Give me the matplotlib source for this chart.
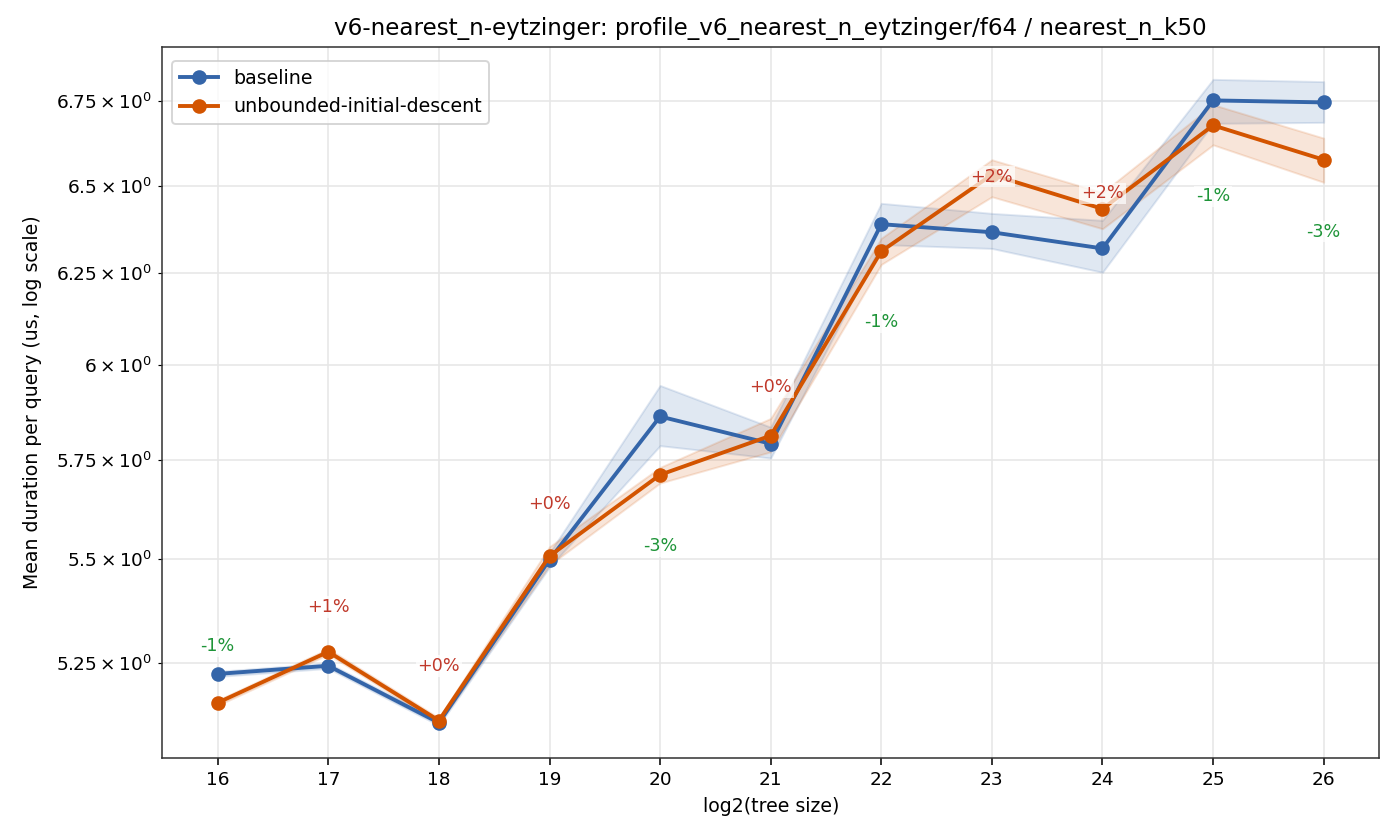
import matplotlib
matplotlib.use("Agg")
import matplotlib.pyplot as plt

sizes = [16, 17, 18, 19, 20, 21, 22, 23, 24, 25, 26]

base_mean = [5.224, 5.243, 5.111, 5.498, 5.862, 5.791, 6.389, 6.366, 6.320, 6.753, 6.747]
base_lo = [5.218, 5.237, 5.105, 5.480, 5.786, 5.754, 6.331, 6.320, 6.253, 6.684, 6.687]
base_hi = [5.230, 5.249, 5.118, 5.515, 5.944, 5.834, 6.449, 6.420, 6.400, 6.817, 6.810]

cand_mean = [5.157, 5.276, 5.116, 5.507, 5.711, 5.812, 6.312, 6.532, 6.433, 6.678, 6.576]
cand_lo = [5.151, 5.270, 5.110, 5.485, 5.690, 5.770, 6.275, 6.468, 6.376, 6.620, 6.510]
cand_hi = [5.163, 5.283, 5.122, 5.530, 5.730, 5.857, 6.349, 6.576, 6.480, 6.740, 6.640]

pct_labels = ["-1%", "+1%", "+0%", "+0%", "-3%", "+0%", "-1%", "+2%", "+2%", "-1%", "-3%"]
# vertical offset of each label from the candidate point, in points
label_dy = [29, 23, 28, 27, -36.5, 25, -36.5, -1, 8, -36.5, -37]

BLUE = "#3465a9"
ORANGE = "#d35400"

fig, ax = plt.subplots(figsize=(10, 6), dpi=140)
fig.subplots_adjust(left=0.116, right=0.985, top=0.944, bottom=0.098)

ax.fill_between(sizes, base_lo, base_hi, color=BLUE, alpha=0.15)
ax.fill_between(sizes, cand_lo, cand_hi, color=ORANGE, alpha=0.15)
ax.plot(sizes, base_mean, color=BLUE, marker="o", lw=2, ms=6.5, label="baseline")
ax.plot(sizes, cand_mean, color=ORANGE, marker="o", lw=2, ms=6.5, label="unbounded-initial-descent")

for x, y, txt, dy in zip(sizes, cand_mean, pct_labels, label_dy):
    col = "#1e9438" if txt.startswith("-") else "#c0392b"
    ax.annotate(txt, (x, y), xytext=(0, dy), textcoords="offset points",
                ha="center", va="center", fontsize=9, color=col,
                bbox=dict(boxstyle="square,pad=0.1", fc="white", ec="none", alpha=0.7))

ax.set_yscale("log")
ax.set_xticks(sizes)
ax.tick_params(which="both", labelsize=9.5)
ax.grid(True, which="both", color="#e6e6e6", lw=0.8)
ax.set_axisbelow(True)
ax.set_xlabel("log2(tree size)", fontsize=9.7)
ax.set_ylabel("Mean duration per query (us, log scale)", fontsize=9.7, labelpad=7)
ax.set_title("v6-nearest_n-eytzinger: profile_v6_nearest_n_eytzinger/f64 / nearest_n_k50", fontsize=11.8)
ax.legend(loc="upper left", fontsize=9.8, bbox_to_anchor=(0, 0.9937))
for s in ax.spines.values():
    s.set_color("#333333")

fig.savefig("out.png")
